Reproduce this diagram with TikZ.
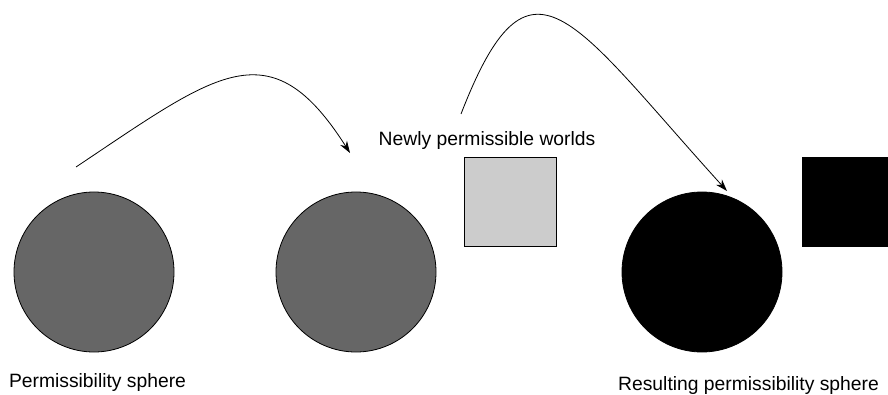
\documentclass[tikz,border=0pt]{standalone}
\usepackage{fontspec}
\setmainfont{Liberation Sans}
\usetikzlibrary{arrows.meta}
\definecolor{sphereGray}{HTML}{666666}
\definecolor{newGray}{HTML}{CCCCCC}
\begin{document}
\begin{tikzpicture}[x=1pt,y=1pt,
  sphere/.style={circle,draw=black,line width=0.8pt,minimum size=160pt,inner sep=0pt},
  worldbox/.style={rectangle,draw=black,line width=0.8pt,minimum width=92pt,minimum height=89pt,inner sep=0pt},
  caption/.style={font=\fontsize{19.3}{23}\selectfont,inner sep=0pt,anchor=base},
  jump/.style={-{Stealth[length=12pt,width=8pt]},line width=0.8pt}]
  \clip (0,0) rectangle (888,394);

  \node[sphere,fill=sphereGray] (oldsphere) at (94,122) {};
  \node[sphere,fill=sphereGray] (keptsphere) at (356,122) {};
  \node[worldbox,fill=newGray] (newworlds) at (510,192.5) {};
  \node[sphere,fill=black] (resultsphere) at (702,122) {};
  \node[worldbox,fill=black] (addedworlds) at (848,192.5) {};

  \node[caption] (oldlabel) at (97.5,7) {Permissibility sphere};
  \node[caption] (newlabel) at (487,248) {Newly permissible worlds};
  \node[caption] (resultlabel) at (748.5,4) {Resulting permissibility sphere};

  \coordinate (jumpAstart) at (76,227);
  \coordinate (jumpAend) at (350,241);
  \coordinate (jumpBstart) at (461,280);
  \coordinate (jumpBend) at (727,203);

  \draw[jump] (jumpAstart) .. controls (217,321) and (270,367) .. (jumpAend);
  \draw[jump] (jumpBstart) .. controls (530,458) and (571,375) .. (jumpBend);
\end{tikzpicture}
\end{document}
